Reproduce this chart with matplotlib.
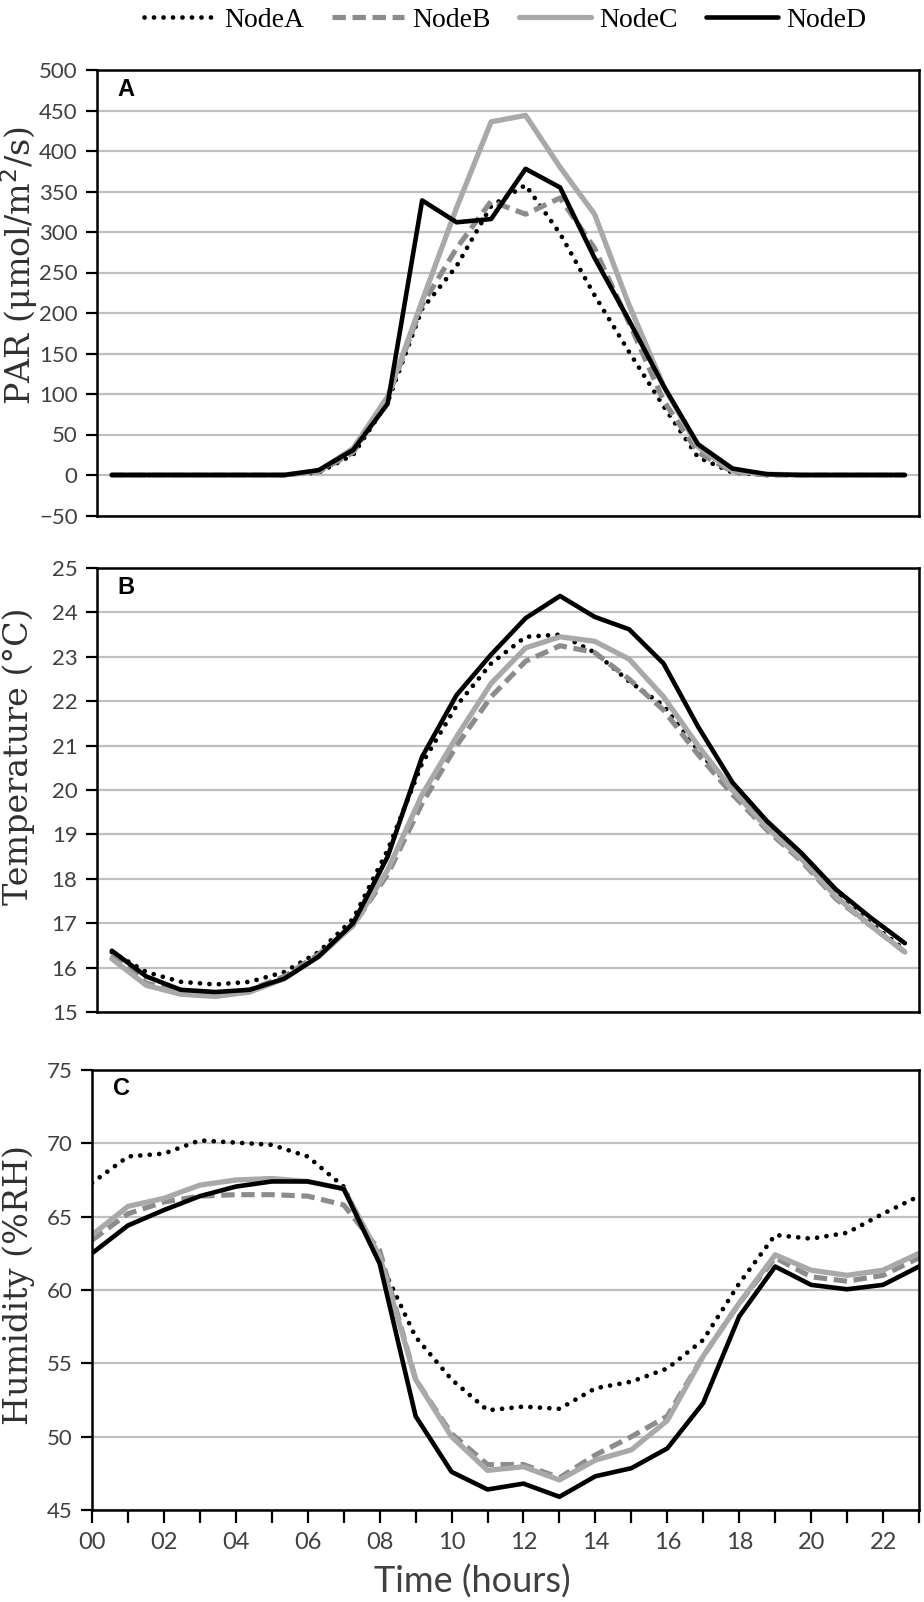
import matplotlib
matplotlib.use('Agg')
import matplotlib.pyplot as plt

hours = list(range(24))
xtick_labels = ['00', '02', '04', '06', '08', '10', '12', '14', '16', '18', '20', '22']
node_names = ['NodeA', 'NodeB', 'NodeC', 'NodeD']

# PAR (umol/m2/s)
par_a = [0, 0, 0, 0, 0, 0, 3, 25, 90, 205, 258, 332, 358, 298, 222, 152, 85, 22, 3, 0, 0, 0, 0, 0]
par_b = [0, 0, 0, 0, 0, 0, 4, 28, 95, 210, 280, 338, 322, 342, 280, 188, 92, 28, 4, 0, 0, 0, 0, 0]
par_c = [0, 0, 0, 0, 0, 0, 5, 33, 97, 215, 330, 436, 444, 380, 322, 210, 110, 35, 5, 1, 0, 0, 0, 0]
par_d = [0, 0, 0, 0, 0, 0, 6, 31, 88, 339, 312, 316, 378, 355, 268, 191, 110, 38, 8, 1, 0, 0, 0, 0]

# Temperature (C)
temp_a = [16.35, 15.9, 15.68, 15.62, 15.68, 15.9, 16.35, 17.1, 18.65, 20.6, 21.9, 22.85, 23.45, 23.5, 23.1, 22.45, 21.9, 20.9, 20.0, 19.2, 18.5, 17.65, 17.0, 16.4]
temp_b = [16.3, 15.65, 15.45, 15.4, 15.5, 15.8, 16.3, 16.95, 18.1, 19.7, 21.0, 22.1, 22.9, 23.25, 23.1, 22.5, 21.8, 20.8, 19.9, 19.1, 18.4, 17.55, 16.95, 16.35]
temp_c = [16.2, 15.6, 15.4, 15.35, 15.45, 15.75, 16.25, 16.95, 18.2, 19.9, 21.2, 22.4, 23.2, 23.45, 23.35, 22.95, 22.1, 21.0, 20.0, 19.15, 18.45, 17.6, 16.95, 16.35]
temp_d = [16.38, 15.8, 15.5, 15.45, 15.5, 15.75, 16.25, 17.0, 18.5, 20.75, 22.14, 23.05, 23.87, 24.37, 23.9, 23.62, 22.85, 21.43, 20.17, 19.3, 18.58, 17.76, 17.13, 16.55]

# Humidity (%RH)
hum_a = [67.3, 69.1, 69.3, 70.2, 70.05, 69.9, 69.1, 67.05, 62.0, 56.8, 53.9, 51.8, 52.05, 51.9, 53.3, 53.75, 54.65, 56.6, 60.45, 63.75, 63.5, 63.9, 65.2, 66.4]
hum_b = [63.4, 65.2, 66.0, 66.4, 66.5, 66.5, 66.4, 65.8, 62.7, 53.9, 50.2, 48.1, 48.1, 47.2, 48.75, 50.0, 51.4, 55.5, 59.1, 62.2, 60.9, 60.6, 61.0, 62.2]
hum_c = [63.75, 65.7, 66.25, 67.15, 67.5, 67.6, 67.4, 66.9, 62.3, 53.9, 50.0, 47.7, 47.95, 47.05, 48.4, 49.1, 51.1, 55.5, 59.1, 62.4, 61.35, 61.0, 61.35, 62.5]
hum_d = [62.5, 64.4, 65.45, 66.4, 67.05, 67.4, 67.4, 66.9, 61.8, 51.4, 47.6, 46.4, 46.8, 45.9, 47.3, 47.85, 49.2, 52.3, 58.2, 61.6, 60.35, 60.05, 60.35, 61.6]

W, H = 924, 1602
fig = plt.figure(figsize=(W / 100, H / 100), dpi=100)


def add_panel(left, right, top, bottom):
    return fig.add_axes([left / W, 1 - bottom / H, (right - left) / W, (bottom - top) / H])


styles = [
    dict(color='black', lw=3.4, linestyle=(0, (0.01, 2.0)), dash_capstyle='round'),
    dict(color='#8c8c8c', lw=3.7, linestyle=(0, (2.6, 1.3)), dash_capstyle='butt'),
    dict(color='#a9a9a9', lw=3.8, linestyle='-'),
    dict(color='black', lw=3.3, linestyle='-'),
]


def style_axes(ax, ylim, yticks, ylabel, label_y, letter, xlim):
    ax.set_xlim(*xlim)
    ax.set_ylim(*ylim)
    ax.set_yticks(yticks)
    ax.yaxis.grid(True, color='#c0c0c0', lw=1.6)
    ax.set_axisbelow(True)
    for sp in ax.spines.values():
        sp.set_linewidth(1.8)
        sp.set_color('black')
    ax.tick_params(axis='y', direction='out', length=8, width=1.6, colors='black',
                   labelcolor='#404040', pad=6)
    for lab in ax.get_yticklabels():
        lab.set_fontfamily('Lato')
        lab.set_fontsize(16)
    fig.text(19 / W, 1 - label_y / H, ylabel, rotation=90, ha='center', va='center',
             family='DejaVu Serif', size=24, color='#303030')
    ax.text(0.025, 0.983, letter, transform=ax.transAxes, ha='left', va='top',
            family='Liberation Sans', weight='bold', size=17)


xlim_ab = (-0.43, 23.41)

ax_a = add_panel(97, 919, 70, 515.5)
lines = []
for vals, st, name in zip([par_a, par_b, par_c, par_d], styles, node_names):
    ln, = ax_a.plot(hours, vals, label=name, solid_capstyle='round', **st)
    lines.append(ln)
style_axes(ax_a, (-50, 500), range(-50, 501, 50), 'PAR (μmol/m$^2$/s)', 265, 'A', xlim_ab)
ax_a.set_xticks([])

ax_b = add_panel(97, 919, 568, 1012)
for vals, st in zip([temp_a, temp_b, temp_c, temp_d], styles):
    ax_b.plot(hours, vals, solid_capstyle='round', **st)
style_axes(ax_b, (15, 25), range(15, 26), 'Temperature (°C)', 756, 'B', xlim_ab)
ax_b.set_xticks([])

ax_c = add_panel(92, 919, 1070, 1510)
for vals, st in zip([hum_a, hum_b, hum_c, hum_d], styles):
    ax_c.plot(hours, vals, solid_capstyle='round', **st)
style_axes(ax_c, (45, 75), range(45, 76, 5), 'Humidity (%RH)', 1285, 'C', (0, 23))
ax_c.set_xticks(hours)
ax_c.set_xticklabels([xtick_labels[h // 2] if h % 2 == 0 else '' for h in hours])
ax_c.tick_params(axis='x', direction='out', length=9, width=1.6, colors='black',
                 labelcolor='#404040', pad=7)
for lab in ax_c.get_xticklabels():
    lab.set_fontfamily('Lato')
    lab.set_fontsize(17)

fig.text(472 / W, 1 - 1599 / H, 'Time (hours)', ha='center', va='bottom',
         family='Lato', size=26, color='#404040')

fig.legend(handles=lines, loc='center', bbox_to_anchor=(505 / W, 1 - 20 / H), ncol=4,
           frameon=False, prop=dict(family='Liberation Serif', size=20),
           handlelength=2.6, handletextpad=0.3, columnspacing=1.0)

fig.savefig('out.png', dpi=100)
